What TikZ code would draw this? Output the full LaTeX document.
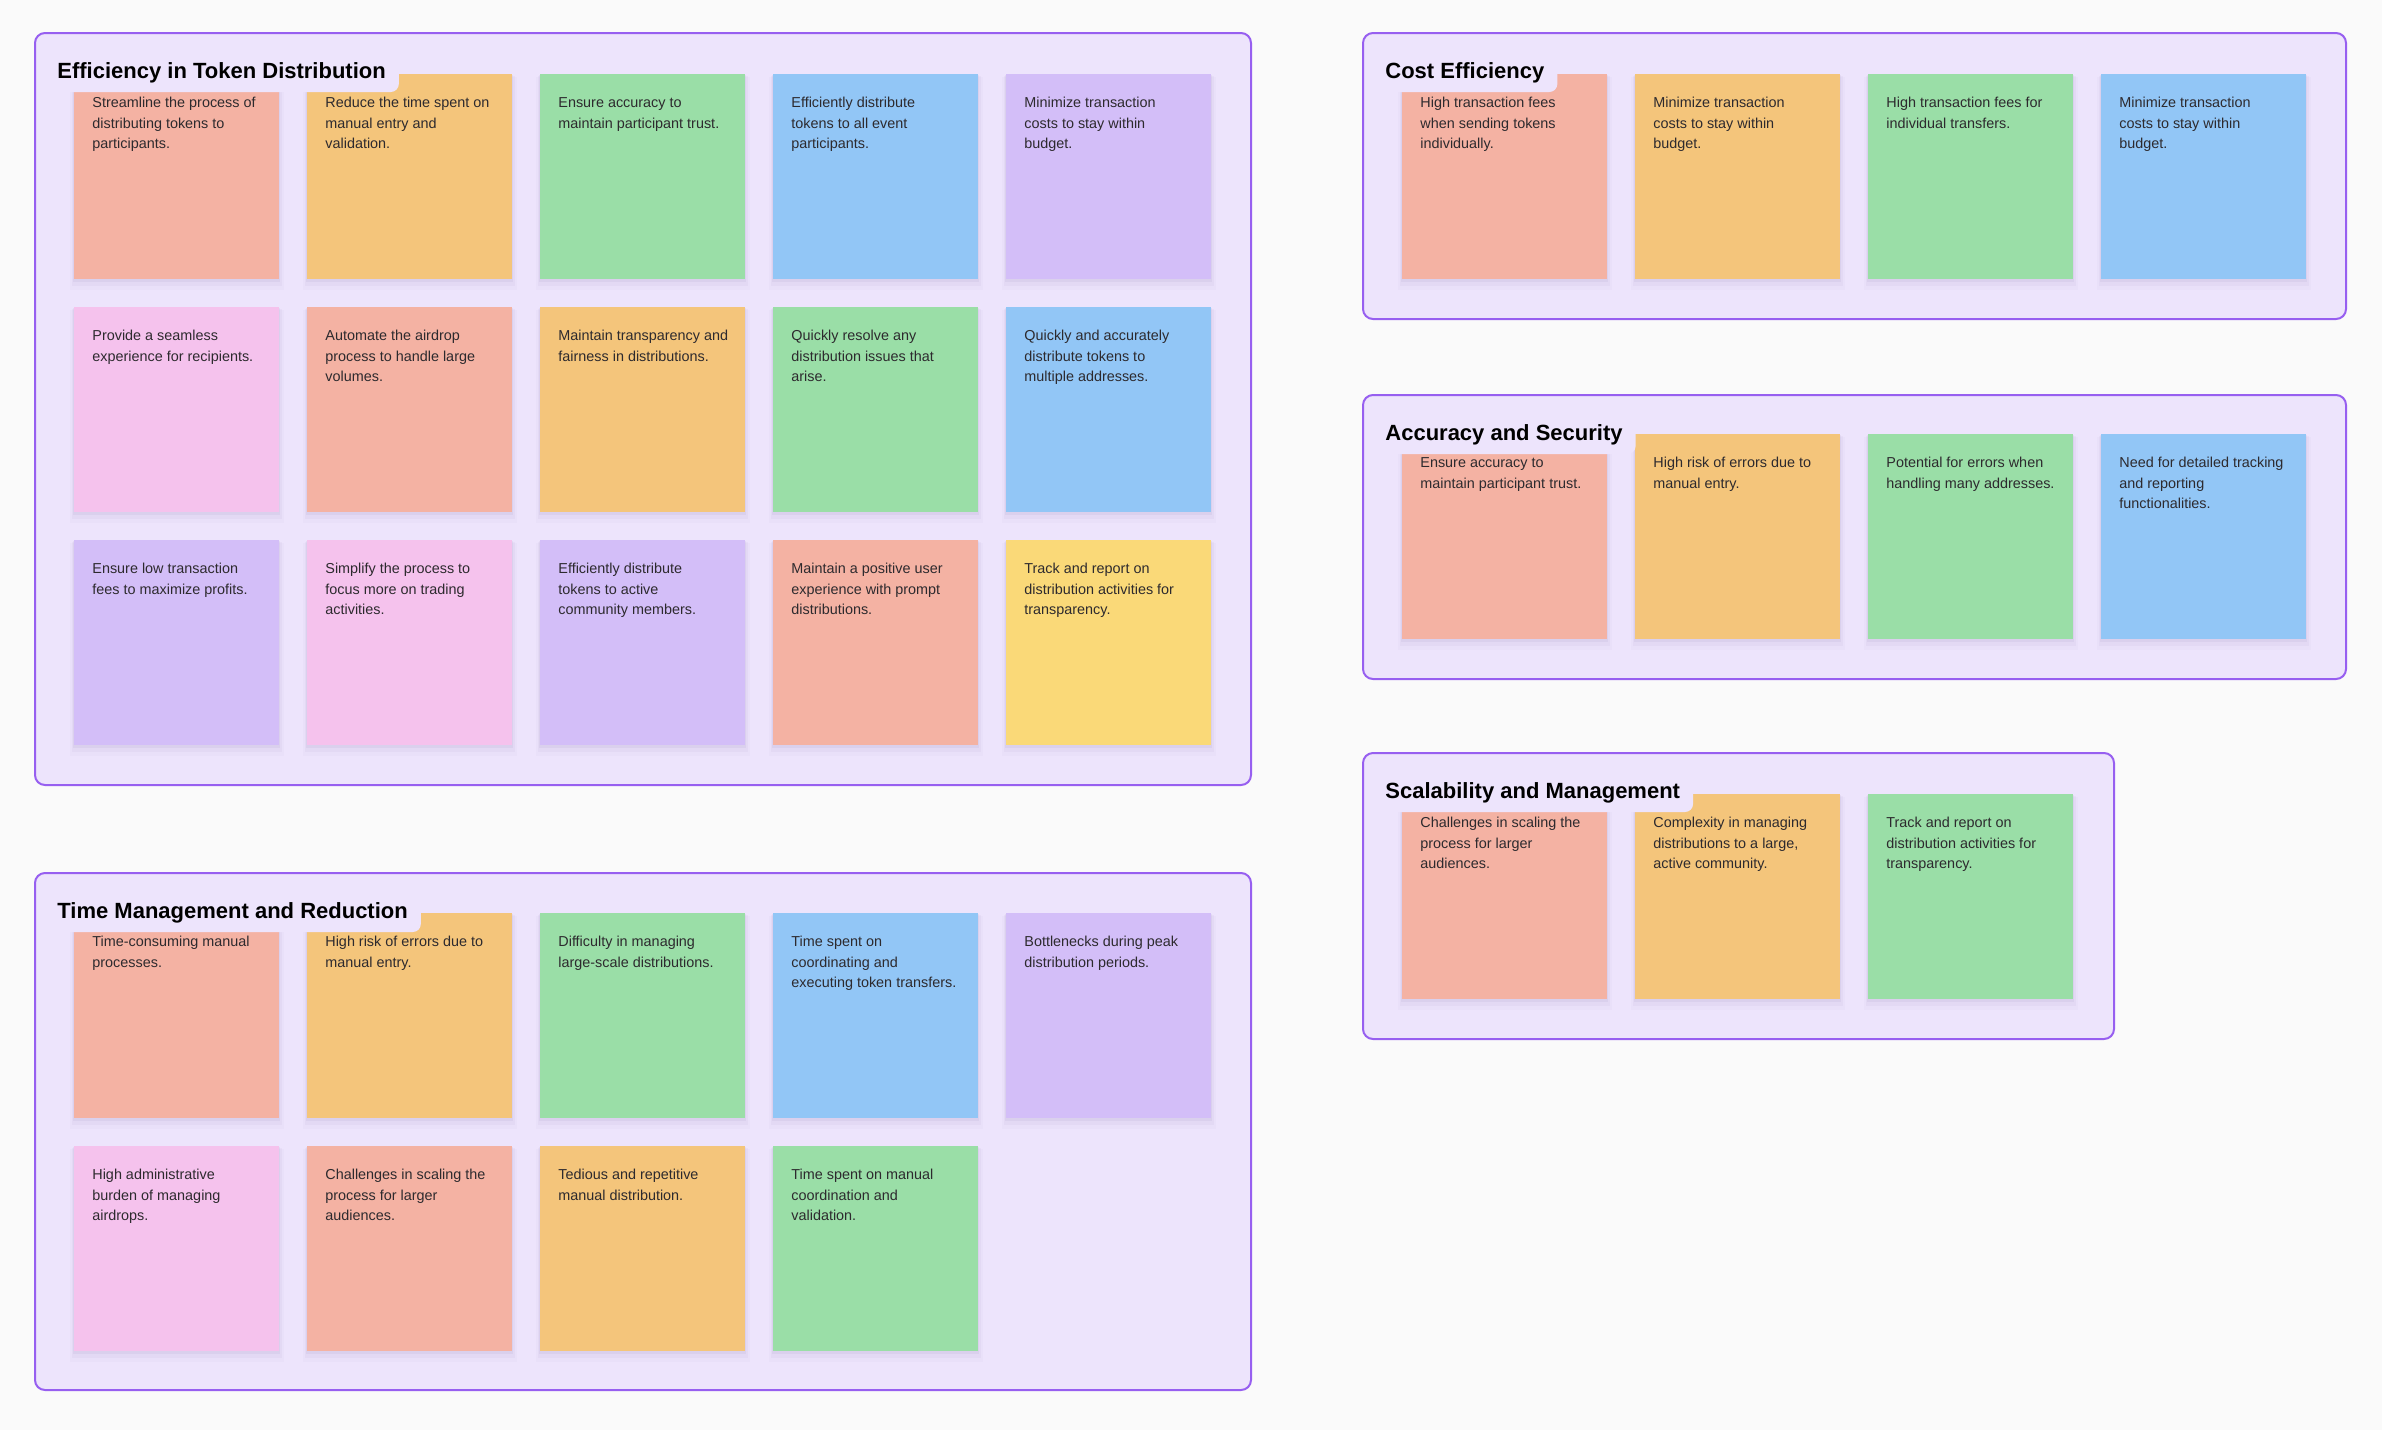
\documentclass[tikz,border=0pt]{standalone}
\usepackage{fontspec}
\setmainfont{Liberation Sans}
\usetikzlibrary{shadows}

\definecolor{pagebg}{RGB}{250,250,250}
\definecolor{framefill}{RGB}{237,228,252}
\definecolor{frameline}{RGB}{151,95,240}
\definecolor{notesalmon}{RGB}{244,178,163}
\definecolor{noteorange}{RGB}{244,197,123}
\definecolor{notegreen}{RGB}{154,222,167}
\definecolor{noteblue}{RGB}{146,198,246}
\definecolor{notepurple}{RGB}{211,190,248}
\definecolor{notepink}{RGB}{245,194,237}
\definecolor{noteyellow}{RGB}{250,217,120}
\definecolor{inktext}{RGB}{45,42,46}
\definecolor{shadeink}{RGB}{90,70,130}

\newcommand\notefont{\fontsize{7.2pt}{10.35pt}\selectfont}
\newcommand\tabfont{\fontsize{11pt}{13pt}\selectfont\bfseries}
% text block of one sticky note, top left aligned
\newcommand\stickytext[1]{\vbox to 102.5pt{\hsize=102.5pt\leftskip=9pt\rightskip=0pt plus 1fil\parindent=0pt\parfillskip=0pt plus 1fil\vskip 9.25pt\noindent\strut#1\par\vfil}}

\tikzset{
  board/.style={draw=frameline, fill=framefill, line width=1pt, rounded corners=5pt},
  note/.style={anchor=north west, inner sep=0pt, minimum width=102.5pt, minimum height=102.5pt,
    fill=#1, text=inktext, font=\notefont,
    drop shadow={shadow xshift=0pt, shadow yshift=-3pt, shadow scale=1.04, opacity=0.025, fill=shadeink},
    drop shadow={shadow xshift=0pt, shadow yshift=-2pt, shadow scale=1.025, opacity=0.04, fill=shadeink},
    drop shadow={shadow xshift=0pt, shadow yshift=-1pt, shadow scale=1.01, opacity=0.06, fill=shadeink}},
  tabtitle/.style={anchor=base west, fill=framefill, rounded corners=4pt, inner xsep=6.5pt,
    inner ysep=7pt, text depth=0pt, font=\tabfont, text=black}
}

\begin{document}
\begin{tikzpicture}[x=0.5pt,y=0.5pt,yscale=-1,xscale=1]
\useasboundingbox[fill=pagebg] (0,0) rectangle (2382,1430);

%Shape: Frame [id:efficiency]
\draw[board] (35,33) rectangle (1251,785);
% Sticky Notes
\node[note=notesalmon] (eff11) at (74,74) {\stickytext{Streamline the process of\\distributing tokens to\\participants.}};
\node[note=noteorange] (eff12) at (307,74) {\stickytext{Reduce the time spent on\\manual entry and\\validation.}};
\node[note=notegreen] (eff13) at (540,74) {\stickytext{Ensure accuracy to\\maintain participant trust.}};
\node[note=noteblue] (eff14) at (773,74) {\stickytext{Efficiently distribute\\tokens to all event\\participants.}};
\node[note=notepurple] (eff15) at (1006,74) {\stickytext{Minimize transaction\\costs to stay within\\budget.}};
\node[note=notepink] (eff21) at (74,307) {\stickytext{Provide a seamless\\experience for recipients.}};
\node[note=notesalmon] (eff22) at (307,307) {\stickytext{Automate the airdrop\\process to handle large\\volumes.}};
\node[note=noteorange] (eff23) at (540,307) {\stickytext{Maintain transparency and\\fairness in distributions.}};
\node[note=notegreen] (eff24) at (773,307) {\stickytext{Quickly resolve any\\distribution issues that\\arise.}};
\node[note=noteblue] (eff25) at (1006,307) {\stickytext{Quickly and accurately\\distribute tokens to\\multiple addresses.}};
\node[note=notepurple] (eff31) at (74,540) {\stickytext{Ensure low transaction\\fees to maximize profits.}};
\node[note=notepink] (eff32) at (307,540) {\stickytext{Simplify the process to\\focus more on trading\\activities.}};
\node[note=notepurple] (eff33) at (540,540) {\stickytext{Efficiently distribute\\tokens to active\\community members.}};
\node[note=notesalmon] (eff34) at (773,540) {\stickytext{Maintain a positive user\\experience with prompt\\distributions.}};
\node[note=noteyellow] (eff35) at (1006,540) {\stickytext{Track and report on\\distribution activities for\\transparency.}};
% Text Node
\node[tabtitle] (efftitle) at (44,78) {Efficiency in Token Distribution};

%Shape: Frame [id:time]
\draw[board] (35,873) rectangle (1251,1390);
% Sticky Notes
\node[note=notesalmon] (tim11) at (74,913) {\stickytext{Time-consuming manual\\processes.}};
\node[note=noteorange] (tim12) at (307,913) {\stickytext{High risk of errors due to\\manual entry.}};
\node[note=notegreen] (tim13) at (540,913) {\stickytext{Difficulty in managing\\large-scale distributions.}};
\node[note=noteblue] (tim14) at (773,913) {\stickytext{Time spent on\\coordinating and\\executing token transfers.}};
\node[note=notepurple] (tim15) at (1006,913) {\stickytext{Bottlenecks during peak\\distribution periods.}};
\node[note=notepink] (tim21) at (74,1146) {\stickytext{High administrative\\burden of managing\\airdrops.}};
\node[note=notesalmon] (tim22) at (307,1146) {\stickytext{Challenges in scaling the\\process for larger\\audiences.}};
\node[note=noteorange] (tim23) at (540,1146) {\stickytext{Tedious and repetitive\\manual distribution.}};
\node[note=notegreen] (tim24) at (773,1146) {\stickytext{Time spent on manual\\coordination and\\validation.}};
% Text Node
\node[tabtitle] (timtitle) at (44,918) {Time Management and Reduction};

%Shape: Frame [id:cost]
\draw[board] (1363,33) rectangle (2346,319);
% Sticky Notes
\node[note=notesalmon] (cst1) at (1402,74) {\stickytext{High transaction fees\\when sending tokens\\individually.}};
\node[note=noteorange] (cst2) at (1635,74) {\stickytext{Minimize transaction\\costs to stay within\\budget.}};
\node[note=notegreen] (cst3) at (1868,74) {\stickytext{High transaction fees for\\individual transfers.}};
\node[note=noteblue] (cst4) at (2101,74) {\stickytext{Minimize transaction\\costs to stay within\\budget.}};
% Text Node
\node[tabtitle] (csttitle) at (1372,78) {Cost Efficiency};

%Shape: Frame [id:accuracy]
\draw[board] (1363,395) rectangle (2346,679);
% Sticky Notes
\node[note=notesalmon] (acc1) at (1402,434) {\stickytext{Ensure accuracy to\\maintain participant trust.}};
\node[note=noteorange] (acc2) at (1635,434) {\stickytext{High risk of errors due to\\manual entry.}};
\node[note=notegreen] (acc3) at (1868,434) {\stickytext{Potential for errors when\\handling many addresses.}};
\node[note=noteblue] (acc4) at (2101,434) {\stickytext{Need for detailed tracking\\and reporting\\functionalities.}};
% Text Node
\node[tabtitle] (acctitle) at (1372,440) {Accuracy and Security};

%Shape: Frame [id:scalability]
\draw[board] (1363,753) rectangle (2114,1039);
% Sticky Notes
\node[note=notesalmon] (scl1) at (1402,794) {\stickytext{Challenges in scaling the\\process for larger\\audiences.}};
\node[note=noteorange] (scl2) at (1635,794) {\stickytext{Complexity in managing\\distributions to a large,\\active community.}};
\node[note=notegreen] (scl3) at (1868,794) {\stickytext{Track and report on\\distribution activities for\\transparency.}};
% Text Node
\node[tabtitle] (scltitle) at (1372,798) {Scalability and Management};

\end{tikzpicture}
\end{document}
